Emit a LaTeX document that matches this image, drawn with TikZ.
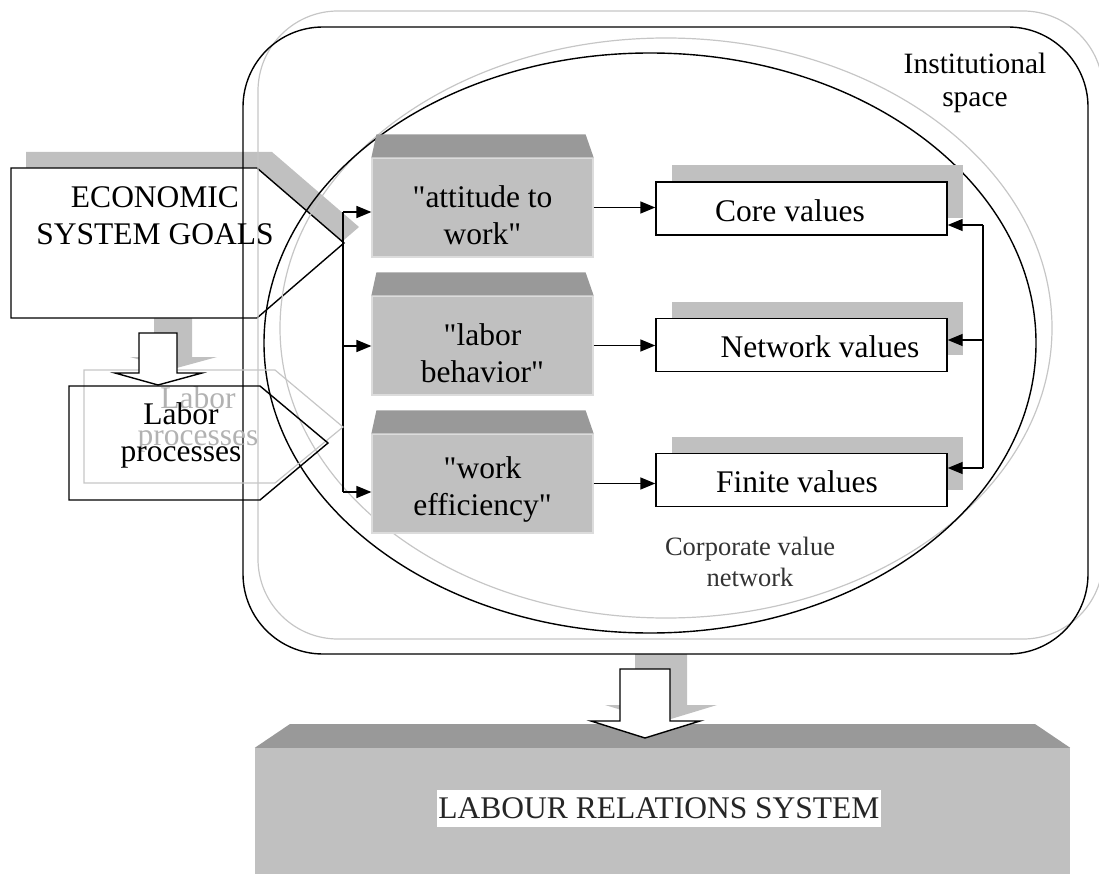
\documentclass[tikz,border=0pt]{standalone}
\usepackage{fontspec}
\setmainfont{Liberation Serif}[Ligatures=TeXOff]
\usetikzlibrary{arrows.meta, calc, shadows, shapes.geometric}
\definecolor{shadowgray}{HTML}{C0C0C0}
\definecolor{lid}{HTML}{999999}
\definecolor{ghost}{HTML}{C6C6C6}

\begin{document}
\begin{tikzpicture}[x=1pt,y=-1pt,
  big/.style   = {font=\fontsize{31.5}{37}\selectfont, align=center},
  note/.style  = {font=\fontsize{29.5}{33}\selectfont, align=center},
  gbox/.style  = {fill=shadowgray, draw=shadowgray!55!white, line width=1.2pt,
                  minimum width=221pt, minimum height=99pt, inner sep=0pt},
  vbox/.style  = {draw, fill=white, line width=1.4pt, inner sep=0pt,
                  minimum width=291pt, minimum height=53pt,
                  drop shadow={shadow xshift=16pt, shadow yshift=17pt,
                  fill=shadowgray, opacity=1}},
  conn/.style  = {line width=1.5pt, -{Triangle[length=15pt,width=12pt]}},
  frame/.style = {draw, line width=1.4pt, inner sep=0pt},
  ]
  \useasboundingbox (0,0) rectangle (1099,874);

  % shadows
  \fill[shadowgray] (26,152) -- (272,152) -- (359,227) -- (272,302) -- (26,302) -- cycle;
  \fill[shadowgray] (154,317) -- (192,317) -- (192,357) -- (217,357) -- (173,369)
    -- (130,357) -- (154,357) -- cycle;
  \fill[shadowgray] (635,654) -- (687,654) -- (687,705) -- (717,705) -- (661,722)
    -- (605,705) -- (635,705) -- cycle;

  \filldraw[fill=white, draw=black, line width=1.4pt] (11,168) -- (257,168) -- (344,243)
    -- (257,318) -- (11,318) -- cycle;

  % institutional space and value network
  \node[frame, draw=ghost, line width=1.2pt, rounded corners=80pt,
    minimum width=845pt, minimum height=628pt] (ispg) at (680.5,325) {};
  \node[frame, draw=ghost, line width=1.2pt, ellipse,
    minimum width=772pt, minimum height=580pt] (cvng) at (666,328) {};
  \node[frame, rounded corners=80pt,
    minimum width=845pt, minimum height=627pt] (isp) at (665.5,340.5) {};
  \node[frame, ellipse, minimum width=772pt, minimum height=580pt] (cvn) at (650,343) {};

  \node[note] (inst) at (975,82.5) {Institutional\\space};
  \node[font=\fontsize{26.5}{31}\selectfont, align=center, text=black!80] (corp)
    at (750,562) {Corporate value\\network};

  % gray boxes
  \node[gbox, label={[big,yshift=-8pt]center:{"attitude to\\work"}}] (atw) at (482.5,207.5) {};
  \node[gbox, label={[big,yshift=-8pt]center:{"labor\\behavior"}}] (lb) at (482.5,345.5) {};
  \node[gbox, label={[big,yshift=-6pt]center:{"work\\efficiency"}}] (we) at (482.5,483.5) {};
  \fill[lid] (atw.north west) -- ++(5,-23) -- ($(atw.north east)+(-8,-23)$) -- (atw.north east) -- cycle;
  \fill[lid] (lb.north west) -- ++(5,-23) -- ($(lb.north east)+(-8,-23)$) -- (lb.north east) -- cycle;
  \fill[lid] (we.north west) -- ++(5,-23) -- ($(we.north east)+(-8,-23)$) -- (we.north east) -- cycle;

  % value boxes
  \node[vbox, label={[big,xshift=-11.5pt,yshift=-2pt]center:Core values}] (cv) at (801.5,208.5) {};
  \node[vbox, label={[big,xshift=18.5pt,yshift=-2pt]center:Network values}] (nv) at (801.5,345) {};
  \node[vbox, label={[big,xshift=-4.5pt,yshift=-2pt]center:Finite values}] (fv) at (801.5,480) {};

  \draw[conn] (atw.east) -- (atw.east -| cv.west);
  \draw[conn] (lb.east) -- (lb.east -| nv.west);
  \draw[conn] (we.east) -- (we.east -| fv.west);

  \coordinate (lt) at (343,212);
  \coordinate (lm) at (343,346);
  \coordinate (lw) at (343,492);
  \draw[line width=1.5pt] (lt) -- (lw);
  \draw[conn] (lt) -- (lt -| atw.west);
  \draw[conn] (lm) -- (lm -| lb.west);
  \draw[conn] (lw) -- (lw -| we.west);

  \coordinate (rt) at (983,225);
  \coordinate (rm) at (983,340);
  \coordinate (rb) at (983,468);
  \draw[line width=1.5pt] (rt) -- (rb);
  \draw[conn] (rt) -- (rt -| cv.east);
  \draw[conn] (rm) -- (rm -| nv.east);
  \draw[conn] (rb) -- (rb -| fv.east);

  % goals and labor processes
  \node[big] (esg) at (155,216) {ECONOMIC\\SYSTEM GOALS};
  \draw[ghost, line width=1.2pt] (84,370) -- (275,370) -- (343,427) -- (275,483) -- (84,483) -- cycle;
  \node[big, text=ghost!90!black] (lpg) at (198,419) {Labor\\processes};
  \draw[line width=1.4pt] (69,386) -- (260,386) -- (328,443) -- (260,500) -- (69,500) -- cycle;
  \node[big] (lp) at (181,435) {Labor\\processes};

  % labour relations system
  \node[fill=shadowgray, minimum width=815pt, minimum height=126pt, inner sep=0pt,
    label={[big, fill=white, inner xsep=1pt, inner ysep=8pt, text=black!85,
    xshift=-3.5pt, yshift=2.5pt]center:LABOUR RELATIONS SYSTEM}] (lrs) at (662.5,811) {};
  \fill[lid] (lrs.north west) -- (290,724) -- (1035,724) -- (lrs.north east) -- cycle;

  % block arrows
  \draw[fill=white, line width=1.4pt] (139,333) -- (177,333) -- (177,373) -- (202,373)
    -- (158,385) -- (115,373) -- (139,373) -- cycle;
  \draw[fill=white, line width=1.4pt] (620,669) -- (670,669) -- (670,721) -- (700,721)
    -- (645,738) -- (591,721) -- (620,721) -- cycle;
\end{tikzpicture}
\end{document}
